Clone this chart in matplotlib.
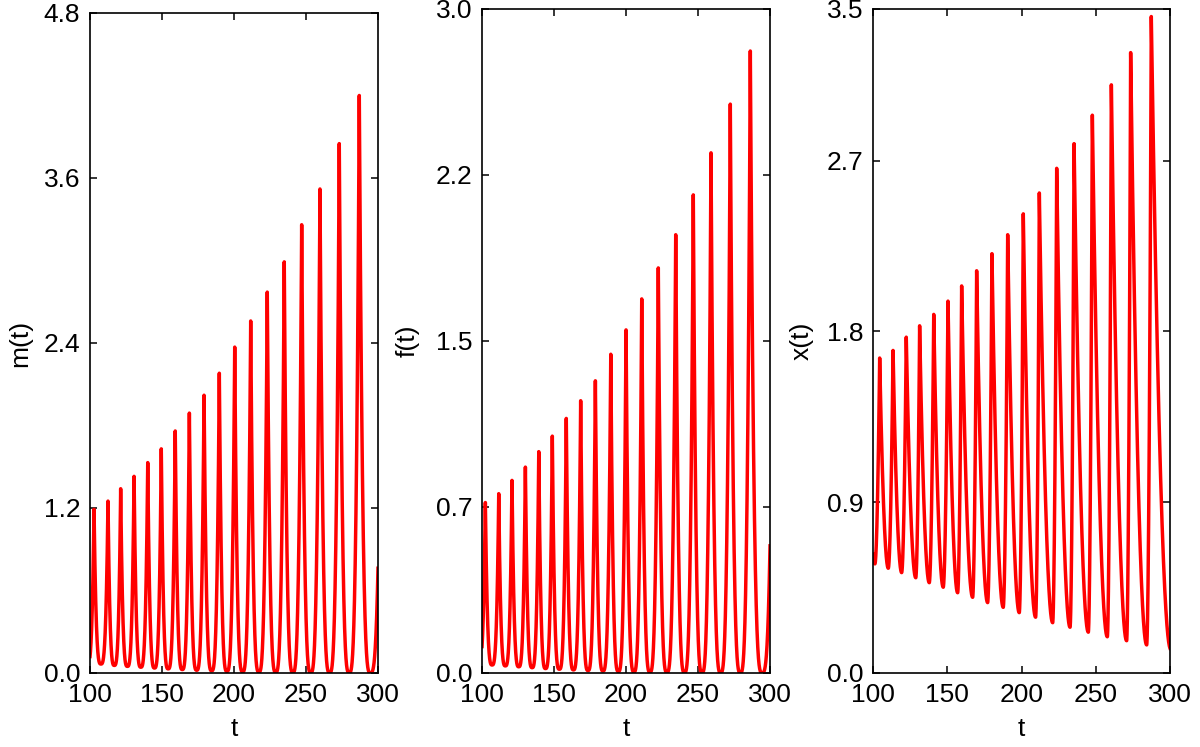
import numpy as np
import matplotlib
matplotlib.use("Agg")
import matplotlib.pyplot as plt

plt.rcParams['font.family'] = ['Liberation Sans', 'DejaVu Sans']
plt.rcParams['font.size'] = 19

# peaks and troughs (first/last entries lie just outside 100..300)
m_peak_t = [102.8, 112.5, 121.3, 130.6, 140.1, 149.5, 159.2, 169.0, 179.2, 189.8,
            200.5, 211.6, 223.1, 234.9, 247.0, 259.7, 273.1, 287.0, 304.0]
m_peak = [1.19, 1.25, 1.34, 1.43, 1.53, 1.63, 1.76, 1.89, 2.02, 2.18,
          2.37, 2.56, 2.77, 2.99, 3.26, 3.52, 3.85, 4.20, 4.60]
m_trough_t = [98.3, 107.6, 116.9, 126.0, 135.3, 144.8, 154.3, 164.1, 174.1, 184.5,
              195.1, 206.0, 217.3, 229.0, 240.9, 253.3, 266.4, 280.0, 294.7]
m_trough = [0.07, 0.065, 0.055, 0.048, 0.042, 0.036, 0.030, 0.025, 0.020, 0.016,
            0.012, 0.009, 0.007, 0.005, 0.004, 0.003, 0.002, 0.002, 0.001]

f_peak_t = [102.3, 111.6, 120.8, 130.1, 139.4, 148.8, 158.5, 168.5, 178.7, 189.4,
            200.0, 210.9, 222.4, 234.5, 246.7, 259.0, 272.4, 286.3, 303.8]
f_peak = [0.77, 0.81, 0.87, 0.93, 1.00, 1.07, 1.15, 1.23, 1.32, 1.44,
          1.55, 1.69, 1.83, 1.98, 2.16, 2.35, 2.57, 2.81, 3.08]
f_trough_t = [97.7, 107.0, 116.2, 125.5, 134.8, 144.1, 153.7, 163.5, 173.6, 184.0,
              194.7, 205.5, 216.6, 228.4, 240.6, 252.8, 265.7, 279.4, 294.5]
f_trough = [0.04, 0.036, 0.032, 0.028, 0.024, 0.020, 0.017, 0.014, 0.011, 0.009,
            0.007, 0.005, 0.004, 0.003, 0.002, 0.002, 0.001, 0.001, 0.001]

x_peak_t = [95.5, 104.5, 113.5, 122.4, 131.4, 140.9, 150.5, 159.7, 169.8, 180.1,
            190.7, 201.2, 212.0, 223.7, 235.4, 247.7, 260.5, 273.5, 287.4]
x_peak = [1.60, 1.66, 1.70, 1.77, 1.83, 1.89, 1.96, 2.04, 2.12, 2.21,
          2.31, 2.42, 2.53, 2.66, 2.79, 2.94, 3.10, 3.27, 3.46]
x_trough_t = [101.3, 110.3, 119.3, 128.8, 137.9, 147.3, 157.0, 167.1, 177.2, 187.7,
              198.5, 209.5, 221.0, 232.7, 245.0, 257.8, 270.8, 284.3, 300.5]
x_trough = [0.575, 0.552, 0.529, 0.502, 0.476, 0.452, 0.423, 0.399, 0.371, 0.346,
            0.318, 0.294, 0.265, 0.241, 0.215, 0.191, 0.170, 0.148, 0.125]

x_ticks = [100, 150, 200, 250, 300]
m_ticks = [0.0, 1.2, 2.4, 3.6, 4.8]
m_labels = ['0.0', '1.2', '2.4', '3.6', '4.8']
f_ticks = [0.0, 0.75, 1.5, 2.25, 3.0]
f_labels = ['0.0', '0.7', '1.5', '2.2', '3.0']
xx_ticks = [0.0, 0.9, 1.8, 2.7, 3.5]
xx_labels = ['0.0', '0.9', '1.8', '2.7', '3.5']


def build(t, peak_t, peak_v, trough_t, trough_v, p_rise, p_fall):
    # join the extrema in time order and bend each segment between them
    et = np.array(peak_t + trough_t)
    ev = np.array(peak_v + trough_v)
    is_peak = np.array([True] * len(peak_t) + [False] * len(trough_t))
    order = np.argsort(et)
    et, ev, is_peak = et[order], ev[order], is_peak[order]
    y = np.full_like(t, np.nan)
    for i in range(len(et) - 1):
        sel = (t >= et[i]) & (t <= et[i + 1])
        s = (t[sel] - et[i]) / (et[i + 1] - et[i])
        if is_peak[i + 1]:
            g = s ** p_rise
        else:
            g = 1 - (1 - s) ** p_fall
        y[sel] = ev[i] + (ev[i + 1] - ev[i]) * g
    return y


t = np.linspace(100, 300, 8001)
m = build(t, m_peak_t, m_peak, m_trough_t, m_trough, 3.2, 3.2)
f = build(t, f_peak_t, f_peak, f_trough_t, f_trough, 3.2, 3.2)
xs = build(t, x_peak_t, x_peak, x_trough_t, x_trough, 1.9, 2.0)

fig = plt.figure(figsize=(12, 7.47), dpi=100)
panels = [
    ([0.075, 0.0991, 0.24, 0.8835], m, 'm(t)', m_ticks, m_labels, 4.8, -0.2),
    ([0.4017, 0.0991, 0.24, 0.8889], f, 'f(t)', f_ticks, f_labels, 3.0, -0.215),
    ([0.7275, 0.0991, 0.2475, 0.8889], xs, 'x(t)', xx_ticks, xx_labels, 3.5, -0.2),
]

for pos, y, name, yt, yl, ymax, lx in panels:
    ax = fig.add_axes(pos)
    ax.plot(t, y, color='#ff0000', linewidth=2.5)
    ax.set_xlim(100, 300)
    ax.set_ylim(0, ymax)
    ax.set_xticks(x_ticks)
    ax.set_yticks(yt)
    ax.set_yticklabels(yl)
    ax.tick_params(direction='in', length=5, width=1.1, top=True, right=True)
    ax.tick_params(axis='y', pad=7)
    ax.tick_params(axis='x', pad=7)
    for sp in ax.spines.values():
        sp.set_linewidth(1.2)
    ax.set_ylabel(name)
    ax.set_xlabel('t')
    ax.yaxis.set_label_coords(lx, 0.5)
    ax.xaxis.set_label_coords(0.5, -0.066)

fig.savefig('out.png', dpi=100)
